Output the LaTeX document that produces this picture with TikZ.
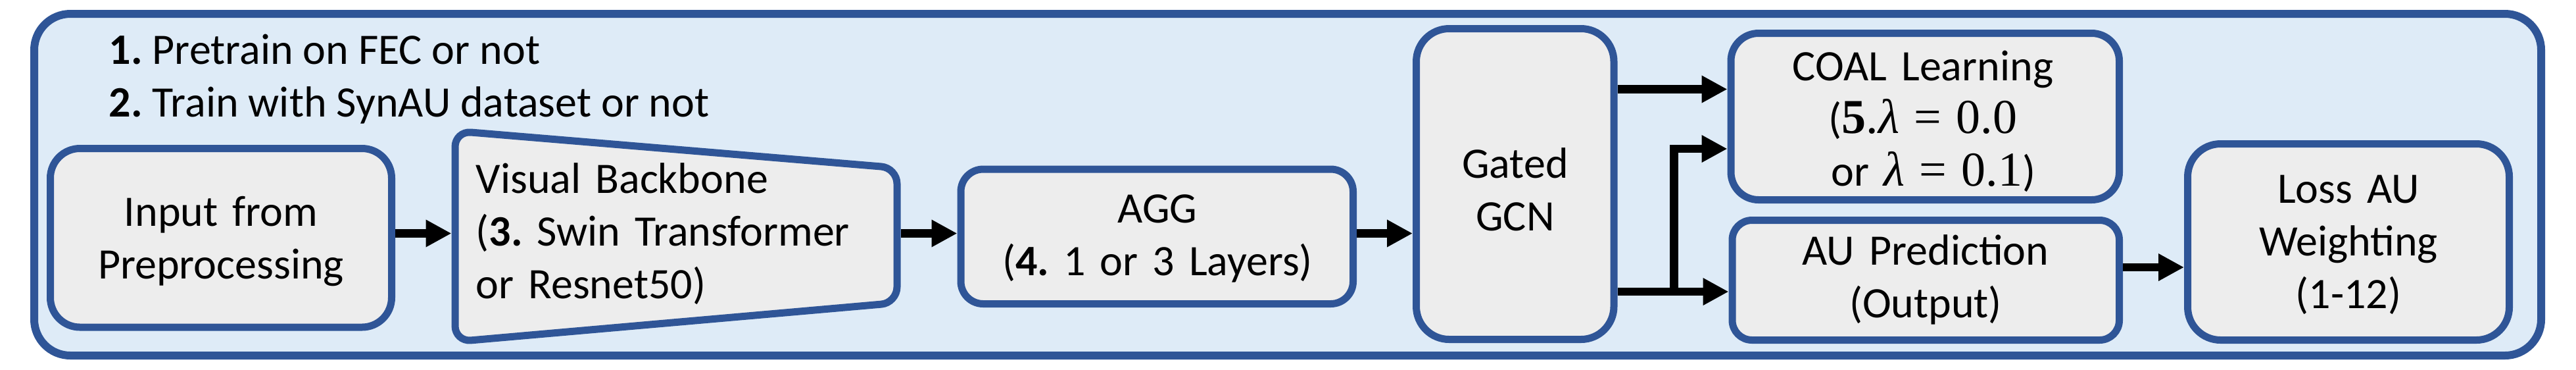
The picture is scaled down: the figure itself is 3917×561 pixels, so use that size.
\documentclass[tikz,border=0pt]{standalone}
\usepackage{fontspec}
\setmainfont{Carlito}
\newfontfamily\mathlike{Liberation Serif}
\usetikzlibrary{arrows.meta}
\definecolor{frameblue}{HTML}{2F5597}
\definecolor{bgblue}{HTML}{DEEBF7}
\definecolor{boxgray}{HTML}{EDEDED}
\frenchspacing
\newcommand{\lameq}[1]{{\mathlike\fontsize{18.5pt}{20pt}\selectfont\textit{λ}\hspace{0.3em}=\hspace{0.3em}#1}}
\begin{document}
\begin{tikzpicture}[x=0.25pt,y=-0.25pt,
  every node/.style={font=\fontsize{16.5pt}{20pt}\selectfont\frenchspacing},
  blk/.style={draw=frameblue,fill=boxgray,line width=2.75pt,inner sep=0pt},
  lbl/.style={anchor=base,align=center,inner sep=0pt},
  arr/.style={line width=3.1pt,-{Triangle[length=9.75pt,width=9.75pt]}}]
\useasboundingbox (0,0) rectangle (3917,561);
% frame
\node[draw=frameblue,fill=bgblue,line width=3pt,rounded corners=13.75pt,
  minimum width=953pt,minimum height=129.75pt,inner sep=0pt] (frame) at (1958,280.5) {};
% option texts
\node[anchor=base west,inner sep=0pt] (opt1) at (165,97) {\textbf{1.} Pretrain on FEC or not};
\node[anchor=base west,inner sep=0pt] (opt2) at (165,177) {\textbf{2.} Train with SynAU dataset or not};
% boxes
\node[blk,rounded corners=11.25pt,minimum width=129.75pt,minimum height=67.875pt] (inp) at (336,361.25) {};
\node[blk,rounded corners=8.5pt,minimum width=149.125pt,minimum height=51.125pt] (agg) at (1759.25,359.25) {};
\node[blk,rounded corners=12.5pt,minimum width=75.125pt,minimum height=118pt] (gcn) at (2303.75,279.5) {};
\node[blk,rounded corners=10.5pt,minimum width=147.625pt,minimum height=63.25pt] (coal) at (2927.25,177) {};
\node[blk,rounded corners=7.5pt,minimum width=147.125pt,minimum height=45.5pt] (aup) at (2928.25,425.5) {};
\node[blk,rounded corners=12.5pt,minimum width=122.25pt,minimum height=74.5pt] (loss) at (3571,367.5) {};
% visual backbone trapezoid
\draw[draw=frameblue,fill=boxgray,line width=2.75pt,rounded corners=6pt]
  (692,199) -- (1364,255) -- (1364,460) -- (692,519) -- cycle;
\coordinate (vbl) at (686.5,354.5);
\coordinate (vbr) at (1369.5,354.5);
% labels
\node[lbl,text width=125pt] (tinp) at (336,343.5) {Input from\\Preprocessing};
\node[anchor=base west,align=left,inner sep=0pt,text width=160pt] (tvb) at (723,293)
  {Visual Backbone\\(\textbf{3.} Swin Transformer\\or Resnet50)};
\node[lbl,text width=145pt] (tagg) at (1760,338) {AGG\\(\textbf{4.} 1 or 3 Layers)};
\node[lbl,text width=72pt] (tgcn) at (2304,270) {Gated\\GCN};
\node[lbl,text width=145pt] (tcoal) at (2924,122)
  {COAL Learning\\({\mathlike\fontsize{18.5pt}{20pt}\selectfont\textbf{5}.}\lameq{0.0}\\\hspace*{8pt}or \lameq{0.1})};
\node[lbl,text width=145pt] (taup) at (2928,402) {AU Prediction\\(Output)};
\node[lbl,text width=120pt] (tloss) at (3571,308) {Loss AU\\Weighting\\(1-12)};
% rows
\coordinate (r0) at (0,354.5);
\coordinate (r1) at (0,135.5);
\coordinate (r2) at (0,226);
\coordinate (r3) at (0,443);
\coordinate (r4) at (0,406);
\coordinate (bx) at (2545.5,443);
% connectors
\draw[arr] (inp.east |- r0) -- (vbl);
\draw[arr] (vbr) -- (agg.west |- r0);
\draw[arr] (agg.east |- r0) -- (gcn.west |- r0);
\draw[arr] (gcn.east |- r1) -- (coal.west |- r1);
\draw[arr] (gcn.east |- r3) -- (aup.west |- r3);
\draw[arr] (bx) |- (coal.west |- r2);
\draw[arr] (aup.east |- r4) -- (loss.west |- r4);
\end{tikzpicture}
\end{document}
